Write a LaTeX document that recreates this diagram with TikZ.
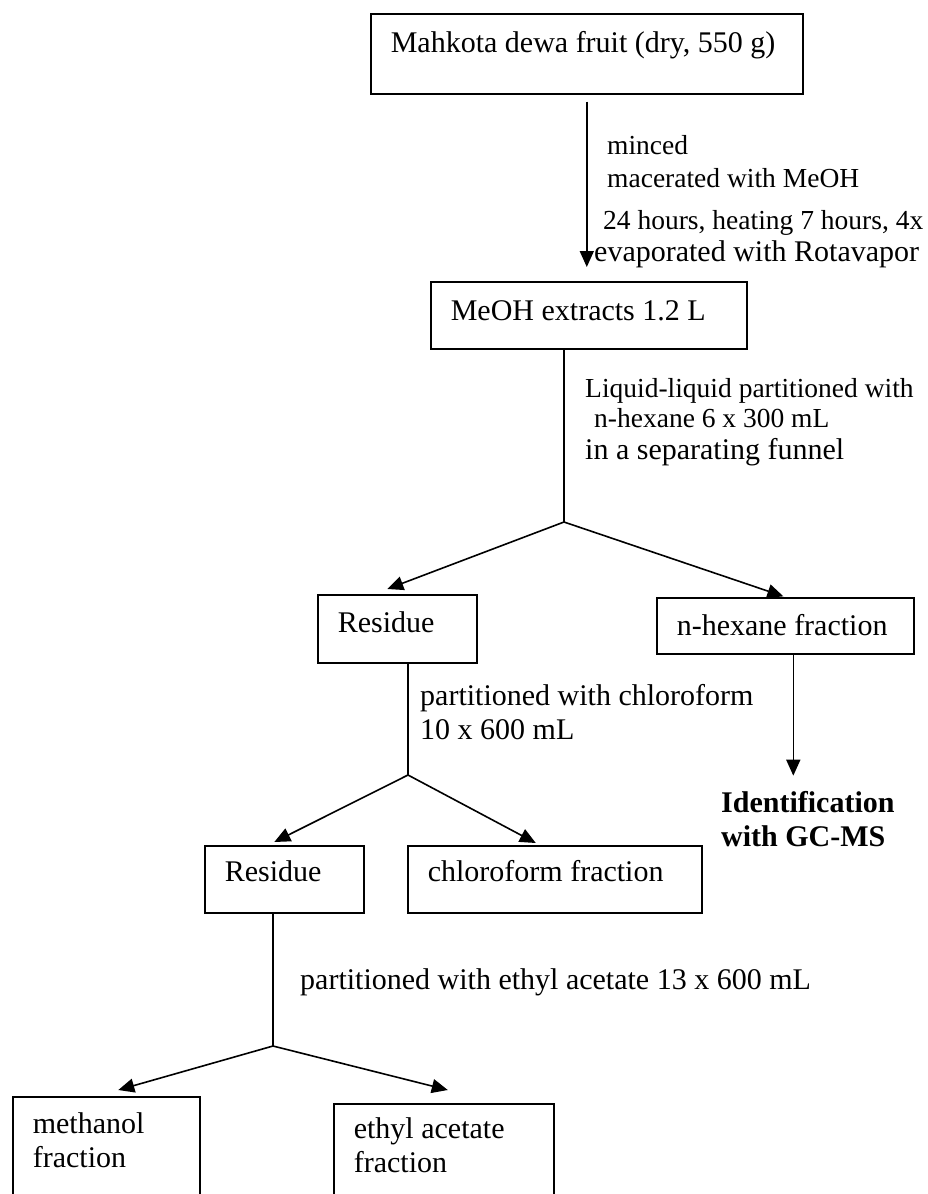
\documentclass[tikz,border=0pt]{standalone}
\usepackage{fontspec}
\setmainfont{Liberation Serif}
\usetikzlibrary{arrows.meta}

\tikzset{
  caja/.style={draw, line width=1.6pt, anchor=north west, inner xsep=20pt, inner ysep=0pt, align=flush left},
  texto/.style={anchor=base west, inner sep=0pt, align=flush left},
  chico/.style={font=\fontsize{27.5}{33}\selectfont},
  linea/.style={line width=1.6pt},
  flecha/.style={line width=1.6pt, -{Triangle[length=16pt,width=14pt]}}
}

\begin{document}
\begin{tikzpicture}[x=1pt, y=-1pt, font=\fontsize{30}{34}\selectfont]
  \clip (0,0) rectangle (928,1194);

  % Cajas
  \node[caja, text width=392pt, text height=39pt, text depth=41pt] (fruit) at (370,13) {Mahkota dewa fruit (dry, 550 g)};
  \node[caja, text width=276pt, text height=39pt, text depth=28pt] (meoh) at (430,281) {MeOH extracts 1.2 L};
  \node[caja, text width=119pt, text height=38pt, text depth=30pt] (res1) at (317,594) {Residue};
  \node[caja, text width=217pt, text height=38pt, text depth=18pt] (hex) at (656,597) {n-hexane fraction};
  \node[caja, text width=119pt, text height=36pt, text depth=31pt] (res2) at (204,845) {Residue};
  \node[caja, text width=254pt, text height=36pt, text depth=31pt] (chl) at (407,845) {chloroform fraction};
  \node[caja, text width=147pt, text height=37pt, text depth=80pt] (meth) at (12,1096) {methanol\\fraction};
  \node[caja, text width=180pt, text height=35pt, text depth=80pt] (ethyl) at (333,1103) {ethyl acetate\\fraction};

  % Textos
  \node[texto, chico] (minced) at (607,154) {minced};
  \node[texto, chico] (macer) at (607,187) {macerated with MeOH};
  \node[texto, chico] (hours) at (603,229) {24 hours, heating 7 hours, 4x};
  \node[texto] (evap) at (594,261) {evaporated with Rotavapor};
  \node[texto, chico] (liq) at (585,397) {Liquid-liquid partitioned with};
  \node[texto, chico] (hexml) at (594,427) {n-hexane 6 x 300 mL};
  \node[texto] (funnel) at (585,459) {in a separating funnel};
  \node[texto] (chlml) at (420,739) {partitioned with chloroform\\10 x 600 mL};
  \node[texto, font=\fontsize{30}{34}\selectfont\bfseries] (ident) at (721,846) {Identification\\with GC-MS};
  \node[texto] (ethml) at (300,989) {partitioned with ethyl acetate 13 x 600 mL};

  % Ramas
  \coordinate (s1) at (564,522);
  \coordinate (s2) at (408,775);
  \coordinate (s3) at (273,1046);

  \draw[flecha, shorten <=7pt, shorten >=14pt] (fruit.south) -- (fruit.south |- meoh.north);
  \draw[linea] (meoh.south -| s1) -- (s1);
  \draw[flecha] (s1) -- ([xshift=-10pt,yshift=5pt]res1.north);
  \draw[flecha, shorten >=2pt] (s1) -- (hex.north);
  \draw[flecha, shorten >=15pt] ([xshift=8pt]hex.south) -- ([xshift=8pt]hex.south |- ident.north);
  \draw[linea] (res1.south -| s2) -- (s2);
  \draw[flecha] (s2) -- ([xshift=-10pt,yshift=3pt]res2.north);
  \draw[flecha] (s2) -- ([xshift=-19pt,yshift=2pt]chl.north);
  \draw[linea] (res2.south -| s3) -- (s3);
  \draw[flecha] (s3) -- ([xshift=12pt,yshift=6pt]meth.north);
  \draw[flecha] (s3) -- ([xshift=4pt,yshift=13pt]ethyl.north);
\end{tikzpicture}
\end{document}
